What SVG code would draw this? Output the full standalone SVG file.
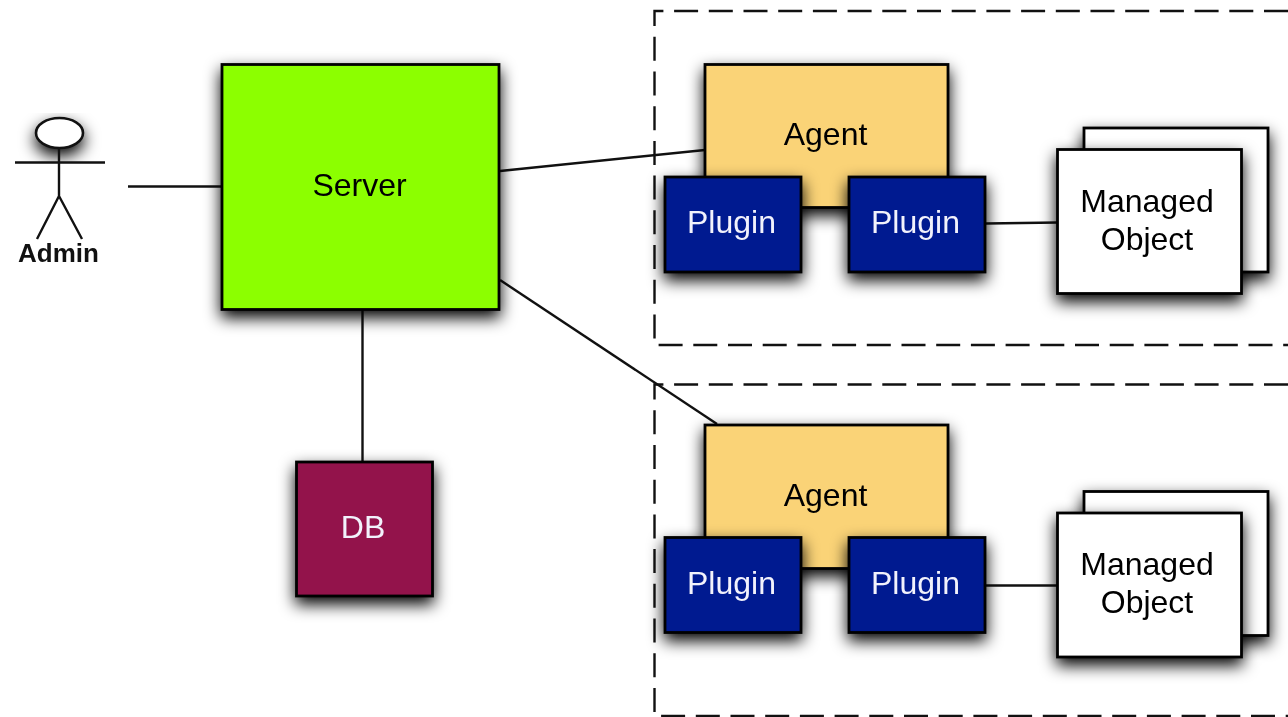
<svg xmlns="http://www.w3.org/2000/svg" width="1288" height="717" viewBox="0 0 1288 717">
<defs>
<filter id="sh" x="-40%" y="-40%" width="180%" height="190%" color-interpolation-filters="sRGB">
<feGaussianBlur in="SourceAlpha" stdDeviation="8"/>
<feOffset dx="0" dy="7"/>
<feComponentTransfer><feFuncA type="linear" slope="1"/></feComponentTransfer>
<feMerge><feMergeNode/><feMergeNode in="SourceGraphic"/></feMerge>
</filter>
<filter id="soft" x="0" y="0" width="1288" height="717" filterUnits="userSpaceOnUse" color-interpolation-filters="sRGB">
<feGaussianBlur stdDeviation="0.6"/>
</filter>
</defs>
<style>
.b{stroke:#000;stroke-width:2.8}
.c{fill:none;stroke:#111;stroke-width:2.4}
.d{fill:none;stroke:#111;stroke-width:2.4;stroke-dasharray:24 10.7}
.t{font-family:"Liberation Sans",Arial,sans-serif;font-size:32px;text-anchor:middle;fill:#000}
.w{fill:#f2f2fc}
.a{stroke:#111;stroke-width:2.4;fill:none}
</style>
<rect width="1288" height="717" fill="#fff"/>
<g filter="url(#soft)">
<g id="groups">
<path class="d" d="M1288 11H654.5V345H1288"/>
<path class="d" d="M1288 384.500H654.500V716H1288"/>
</g>
<g id="connectors">
<path class="c" d="M128 186.500H222"/>
<path class="c" d="M500 171L705 150"/>
<path class="c" d="M500 280L717 424"/>
<path class="c" d="M362.500 310V462"/>
<path class="c" d="M986 223.500L1058 222.500"/>
<path class="c" d="M986 585.500H1058"/>
</g>
<g id="admin">
<ellipse cx="59.500" cy="133" rx="23.500" ry="15" fill="#fff" stroke="#111" stroke-width="2.600" filter="url(#sh)"/>
<path class="a" d="M15 162.500H105M59 148V196M59 196L37 239M59 196L82 239"/>
<text x="58.500" y="262" style="font-family:'Liberation Sans',Arial,sans-serif;font-size:26px;font-weight:700;text-anchor:middle;fill:#111">Admin</text>
</g>
<g id="server">
<rect class="b" x="222" y="64.500" width="277" height="245" fill="#8cff00" filter="url(#sh)"/>
<text class="t" x="359.500" y="196">Server</text>
</g>
<g id="db">
<rect class="b" x="296.500" y="462" width="136" height="134" fill="#93134b" filter="url(#sh)"/>
<text class="t w" x="363" y="538">DB</text>
</g>
<g id="agent1">
<rect class="b" x="705" y="64.500" width="243" height="143" fill="#fad377" filter="url(#sh)"/>
<text class="t" x="825.500" y="145">Agent</text>
</g>
<g id="plugin1a">
<rect class="b" x="665" y="177" width="136" height="95" fill="#001a90" filter="url(#sh)"/>
<text class="t w" x="731.500" y="233">Plugin</text>
</g>
<g id="plugin1b">
<rect class="b" x="849" y="177" width="136" height="95" fill="#001a90" filter="url(#sh)"/>
<text class="t w" x="915.500" y="233">Plugin</text>
</g>
<g id="managed1">
<rect class="b" x="1084" y="128" width="184" height="144" fill="#fff" filter="url(#sh)"/>
<rect class="b" x="1057.500" y="149.500" width="184" height="144" fill="#fff" filter="url(#sh)"/>
<text class="t" x="1147" y="212">Managed</text>
<text class="t" x="1147" y="250">Object</text>
</g>
<g id="agent2">
<rect class="b" x="705" y="425" width="243" height="143.500" fill="#fad377" filter="url(#sh)"/>
<text class="t" x="825.500" y="506">Agent</text>
</g>
<g id="plugin2a">
<rect class="b" x="665" y="537.500" width="136" height="95" fill="#001a90" filter="url(#sh)"/>
<text class="t w" x="731.500" y="594">Plugin</text>
</g>
<g id="plugin2b">
<rect class="b" x="849" y="537.500" width="136" height="95" fill="#001a90" filter="url(#sh)"/>
<text class="t w" x="915.500" y="594">Plugin</text>
</g>
<g id="managed2">
<rect class="b" x="1084" y="491.500" width="184" height="144" fill="#fff" filter="url(#sh)"/>
<rect class="b" x="1057.500" y="513" width="184" height="144" fill="#fff" filter="url(#sh)"/>
<text class="t" x="1147" y="575">Managed</text>
<text class="t" x="1147" y="613">Object</text>
</g>
</g>
</svg>
